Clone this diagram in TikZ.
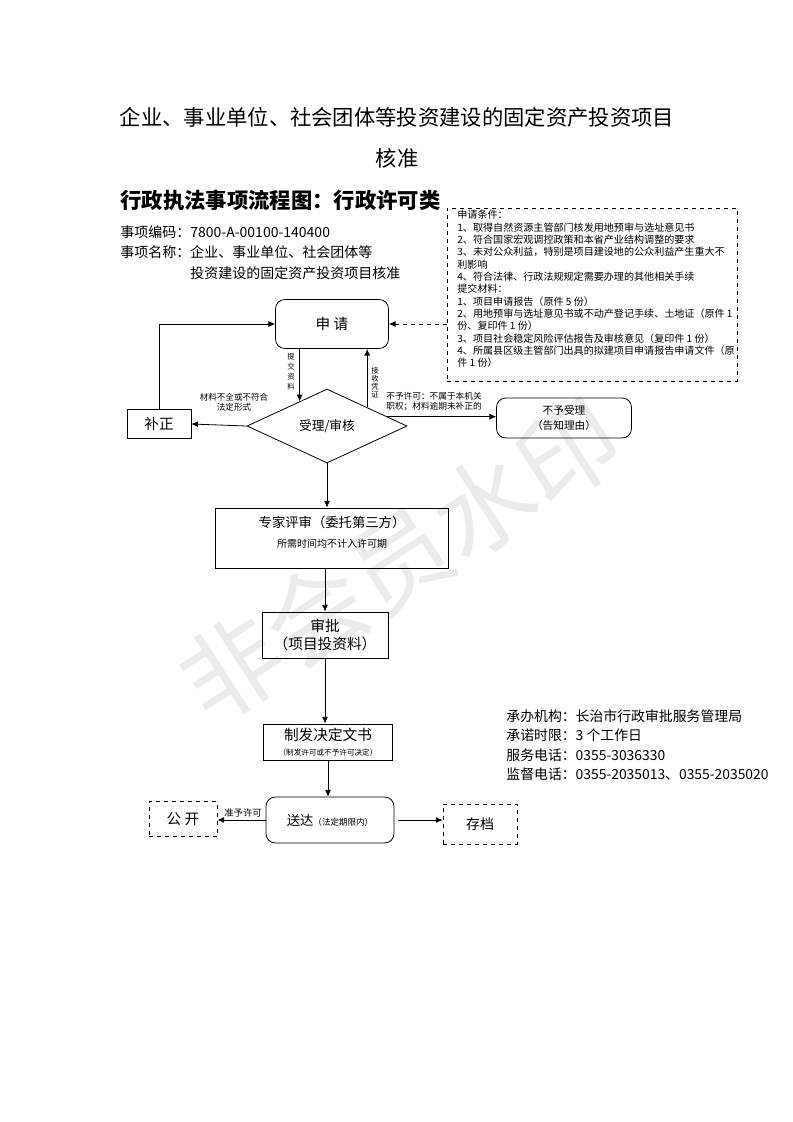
\documentclass[tikz,border=0pt]{standalone}
\usepackage{fontspec}
\setmainfont{Noto Sans CJK SC}
\usepackage{tikz}
\usetikzlibrary{arrows.meta, shapes.geometric, calc}
\newcommand\fsz[2]{\fontsize{#1pt}{#2pt}\selectfont}

\begin{document}
\begin{tikzpicture}[x = .75pt, y = -.75pt, line width = .6pt, >={Latex[length=5pt, width=4.5pt]},
  box/.style = {draw, inner sep = 0pt, align = center},
  rbox/.style = {box, rounded corners = 7pt},
  dbox/.style = {box, dashed},
  lbl/.style = {inner sep = 0pt, align = left}]
  \useasboundingbox (0,0) rectangle (793,1122);
  \node (wm) at (400,560) [rotate = 33, text = black!8, font = \fsz{75}{75}] {非会员水印};

  \node (t1)   at (397,117) [font = \fsz{16}{20}] {企业、事业单位、社会团体等投资建设的固定资产投资项目};
  \node (t2)   at (397,158) [font = \fsz{16}{20}] {核准};
  \node (t3)   at (120,200) [lbl, anchor = west, font = \fsz{16}{20}\bfseries] {行政执法事项流程图：行政许可类};
  \node (code) at (120,232) [lbl, anchor = west, font = \fsz{10.5}{14}] {事项编码：7800-A-00100-140400};
  \node (name) at (120,262.5) [lbl, anchor = west, font = \fsz{10.5}{15.75}] {事项名称：企业、事业单位、社会团体等\\\hspace*{5em}投资建设的固定资产投资项目核准};

  \node (cond)    at (592,294.5) [dbox, minimum width = 217.5pt, minimum height = 129.75pt] {};
  \node (condtxt) at (457,210) [lbl, anchor = north west, font = \fsz{7.55}{9.25}] {申请条件：\\
    1、取得自然资源主管部门核发用地预审与选址意见书\\
    2、符合国家宏观调控政策和本省产业结构调整的要求\\
    3、未对公众利益，特别是项目建设地的公众利益产生重大不\\
    利影响\\
    4、符合法律、行政法规规定需要办理的其他相关手续\\
    提交材料：\\
    1、项目申请报告（原件 5 份）\\
    2、用地预审与选址意见书或不动产登记手续、土地证（原件 1\\
    份、复印件 1 份）\\
    3、项目社会稳定风险评估报告及审核意见（复印件 1 份）\\
    4、所属县区级主管部门出具的拟建项目申请报告申请文件（原\\
    件 1 份）};

  \node (sq)  at (332,324) [rbox, minimum width = 84.75pt, minimum height = 36.75pt, font = \fsz{11}{13}] {申\ 请};
  \node (sh)  at (327,426) [draw, diamond, minimum width = 120pt, minimum height = 55.5pt, inner sep = 0pt, font = \fsz{9.5}{11}] {受理/审核};
  \node (bz)  at (159,424) [box, minimum width = 48pt, minimum height = 21.75pt, font = \fsz{11}{13}] {补正};
  \node (byl) at (564,418) [rbox, minimum width = 101.25pt, minimum height = 30pt, font = \fsz{8}{11}] {不予受理\\（告知理由）};
  \node (zj)  at (332,538) [box, minimum width = 174.75pt, minimum height = 45pt] {};
  \node (zjt) at (332,532) [align = center, inner sep = 0pt, font = \fsz{10}{12}] {专家评审（委托第三方）\\[3pt]\fsz{7.5}{9}所需时间均不计入许可期};
  \node (sp)  at (325,635) [box, minimum width = 94.5pt, minimum height = 34.5pt, font = \fsz{11}{13.5}] {审批\\（项目投资料）};
  \node (zf)  at (328,742) [box, minimum width = 96.75pt, minimum height = 27pt, font = \fsz{11}{12}] {制发决定文书\\[-1pt]\fsz{5.7}{7}（制发许可或不予许可决定）};
  \node (sd)  at (330,820) [rbox, minimum width = 96pt, minimum height = 34.5pt, font = \fsz{10}{12}] {送达\fsz{6.4}{8}（法定期限内）};
  \node (gk)  at (183,819) [dbox, minimum width = 51pt, minimum height = 26.25pt, font = \fsz{11}{13}] {公\ 开};
  \node (cd)  at (480,824) [dbox, minimum width = 55.5pt, minimum height = 30pt, font = \fsz{10.5}{13}] {存档};

  \node (info) at (506,745) [lbl, anchor = west, font = \fsz{10.4}{14.5}] {承办机构：长治市行政审批服务管理局\\
    承诺时限：3 个工作日\\
    服务电话：0355-3036330\\
    监督电话：0355-2035013、0355-2035020};

  % connector labels
  \node (ltj) at (291,372) [align = center, inner sep = 0pt, font = \fsz{5.5}{7.5}] {提\\交\\资\\料};
  \node (ljs) at (375,383) [align = center, inner sep = 0pt, font = \fsz{5.5}{6}] {接\\收\\凭\\证};
  \node (lbq) at (234,402) [align = center, inner sep = 0pt, font = \fsz{6.4}{7.5}] {材料不全或不符合\\法定形式};
  \node (lby) at (386,402) [lbl, anchor = west, font = \fsz{6.5}{7.5}] {不予许可：不属于本机关\\职权；材料逾期未补正的};
  \node (lzy) at (243,813) [inner sep = 0pt, font = \fsz{7}{8}] {准予许可};

  \coordinate (tj) at ($(sh.north)!.34!(sh.west)$);
  \coordinate (js) at ($(sh.north)!.5!(sh.east)$);
  \coordinate (bx) at ($(sh.north)!.75!(sh.east)$);

  \draw [->, dashed] (cond.west |- sq.east) -- (sq.east);
  \draw [->] (sq.south -| tj) -- (tj);
  \draw [->] (js) -- (sq.south -| js);
  \draw [->] (sh.west) -- (bz.east);
  \draw [->] (bz.north) |- (sq.west);
  \draw [->] (bx) -- (bx -| byl.west);
  \draw [->] (sh.south) -- (sh.south |- zj.north);
  \draw [->] (sp.north |- zj.south) -- (sp.north);
  \draw [->] (sp.south) -- (sp.south |- zf.north);
  \draw [->] (zf.south) -- (zf.south |- sd.north);
  \draw [->] (sd.west) -- (sd.west -| gk.east);
  \draw [->] ([xshift = 3pt]sd.east) -- (sd.east -| cd.west);
\end{tikzpicture}
\end{document}
